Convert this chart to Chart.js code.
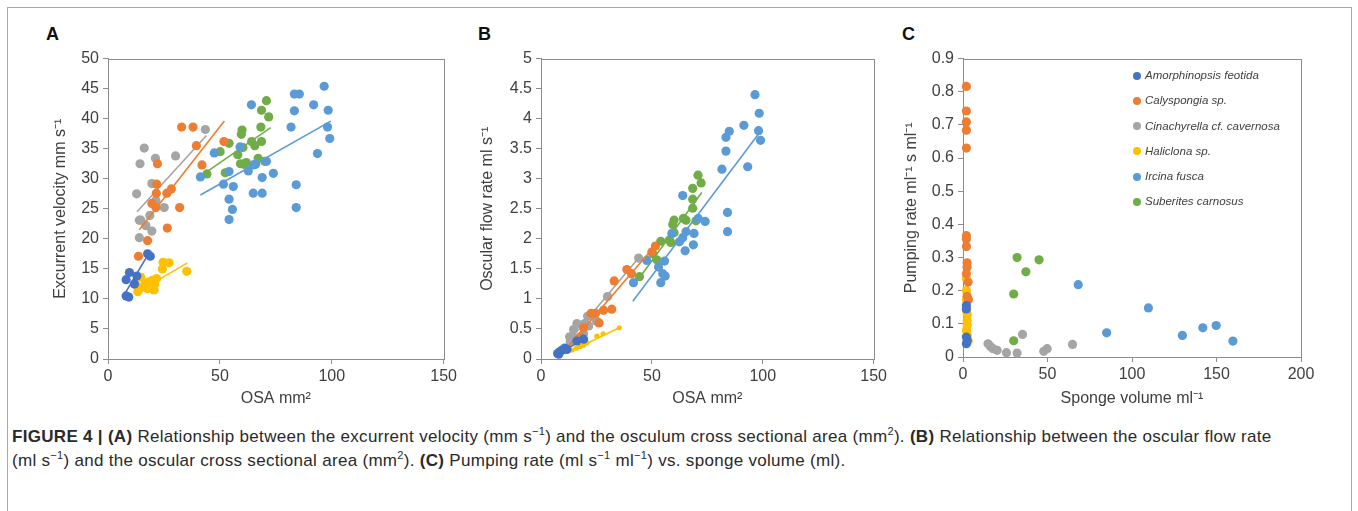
<!DOCTYPE html>
<html>
<head>
<meta charset="utf-8">
<script src="https://cdn.jsdelivr.net/npm/chart.js@4"></script>
<style>
  body { margin: 0; background: #fff; width: 1358px; height: 511px; overflow: hidden; position: relative; font-family: "Liberation Sans", Arial, sans-serif; }
  .frame { position: absolute; left: 7px; top: 7px; width: 1343px; height: 520px; border: 1px solid #a9a9a9; }
  canvas { position: absolute; top: 45px; }
  .tag { position: absolute; top: 24px; font: bold 18px "Liberation Sans", Arial, sans-serif; color: #111; }
  .legend { position: absolute; left: 1133px; top: 66px; font: italic 11.5px "Liberation Sans", Arial, sans-serif; color: #404040; }
  .legend div { height: 25.3px; line-height: 18px; white-space: nowrap; }
  .legend span { display: inline-block; width: 8px; height: 8px; border-radius: 50%; margin-right: 4px; vertical-align: -0.5px; }
  .caption { position: absolute; left: 12px; top: 425px; width: 1340px; font: 17px "Liberation Sans", Arial, sans-serif; letter-spacing: 0.3px; color: #2a2a2a; line-height: 24px; white-space: nowrap; }
  .caption b { font-weight: bold; }
  .caption sup { font-size: 11px; line-height: 0; }
</style>
</head>
<body>
<div class="frame"></div>
<div class="tag" style="left:46px">A</div>
<div class="tag" style="left:478px">B</div>
<div class="tag" style="left:902px">C</div>
<canvas id="chartA" width="420" height="365" style="left:40px"></canvas>
<canvas id="chartB" width="420" height="365" style="left:470px"></canvas>
<canvas id="chartC" width="430" height="365" style="left:890px"></canvas>
<div class="legend" id="legendC"></div>
<div class="caption">
  <b>FIGURE 4 | (A)</b> Relationship between the excurrent velocity (mm s<sup>−1</sup>) and the osculum cross sectional area (mm<sup>2</sup>). <b>(B)</b> Relationship between the oscular flow rate<br>
  (ml s<sup>−1</sup>) and the oscular cross sectional area (mm<sup>2</sup>). <b>(C)</b> Pumping rate (ml s<sup>−1</sup> ml<sup>−1</sup>) vs. sponge volume (ml).
</div>
<script>
// species + colours
const species = ['Amorphinopsis feotida', 'Calyspongia sp.', 'Cinachyrella cf. cavernosa', 'Haliclona sp.', 'Ircina fusca', 'Suberites carnosus'];
const colors = ['#4472C4', '#ED7D31', '#A5A5A5', '#FFC000', '#5B9BD5', '#70AD47'];

// PANEL A : excurrent velocity vs OSA  [x, y]
const aAmor = [[8.1,10.5],[9.3,10.3],[8.1,13.2],[9.6,14.4],[11.8,12.5],[12.9,13.8],[17.7,17.5],[18.9,17.1]];
const aCaly = [[13.6,17.1],[17.7,19.7],[22.1,32.5],[21.8,29.1],[21.6,27.6],[19.6,25.9],[21.4,25.2],[26.3,27.6],[28.3,28.3],[26.5,21.8],[32,25.2],[32.9,38.6],[38,38.6],[39.5,35.5],[42,32.3],[51.8,36.2]];
const aCina = [[12.8,27.5],[14,23.1],[14.7,23.1],[14.3,32.5],[16.2,35.1],[14,20.2],[16.9,22.2],[18.7,23.9],[19.6,21.3],[19.6,29.2],[21.2,33.4],[21.4,26.4],[25.1,25.2],[30.2,33.8],[43.5,38.2]];
const aHali = [[13.3,11.2],[14,11.7],[14.7,13.6],[15.5,12],[16.7,12.5],[18.1,12.8],[19.9,13.1],[20.6,11.5],[21.7,13.4],[24.3,15],[24.6,16.1],[27.3,16],[35.2,14.6],[12.5,12.3],[17.7,11.7],[20.9,12.5]];
const aIrci = [[41.3,30.3],[47.5,34.3],[51.6,29.1],[54.1,31.2],[54.1,26.6],[55.6,24.9],[54.1,23.2],[56,28.7],[59,35.3],[64.1,42.3],[62.7,31.3],[64.9,32.3],[66,32.4],[64.9,27.6],[68.9,30.2],[68.9,27.6],[70.8,32.9],[73.9,30.9],[81.8,38.6],[83.3,41.3],[83.3,44.1],[85.5,44.1],[84.1,29],[84.1,25.2],[91.9,42.3],[93.6,34.2],[96.6,45.4],[98.4,41.4],[98.1,38.6],[99.1,36.7]];
const aSube = [[44.2,30.8],[50.1,34.5],[52.4,31],[54.1,35.9],[58,34],[59.9,38.1],[59.6,37.4],[60.3,35.2],[59.2,32.5],[60.7,32.4],[61.8,32.7],[64.2,36.2],[65.6,35.5],[67.1,33.4],[68.6,41.4],[68.3,38.6],[68.6,36.2],[70.8,43],[71.8,40.3],[70,32.9]];
// trend lines A
const aAmorFit = [[7.4,10.8],[18.1,17.5]];
const aCalyFit = [[14,21.5],[52,39.6]];
const aCinaFit = [[13,24.5],[44,37.2]];
const aHaliFit = [[12.5,11],[35.5,16]];
const aIrciFit = [[41.3,27.3],[99.6,39.6]];
const aSubeFit = [[42.8,30.8],[72.7,38.5]];

// PANEL B : oscular flow rate vs OSA
const bAmor = [[7.5,0.09],[8.4,0.12],[9.5,0.15],[10.7,0.18],[19.2,0.33],[16.2,0.3],[8,0.08],[11.7,0.16]];
const bCaly = [[51.6,1.88],[49.95,1.78],[38.7,1.49],[40.8,1.42],[33,1.3],[28.2,0.81],[31.9,0.83],[26.2,0.6],[24.6,0.76],[22.6,0.76],[19.2,0.52],[17.7,0.37]];
const bCina = [[44,1.68],[30,1.04],[21,0.71],[16.2,0.59],[14.7,0.49],[12.9,0.37],[19.7,0.59],[21.5,0.55],[19.2,0.42],[13.2,0.29],[25,0.63],[15.9,0.34]];
const bHali = [[35.3,0.52],[28,0.42],[25.2,0.38],[20.7,0.27],[15.9,0.18],[14,0.15],[17.7,0.21],[19.2,0.23]];
const bIrci = [[96.5,4.4],[98.4,4.09],[91.5,3.89],[84.9,3.79],[83.4,3.69],[98.1,3.8],[99,3.64],[83.4,3.46],[81.6,3.16],[93.2,3.2],[84.1,2.44],[84.1,2.12],[74,2.29],[70.9,2.34],[69,2.09],[68.7,1.9],[65,1.8],[65.4,2.12],[63.9,2.72],[62.4,1.95],[59,2.09],[55.7,1.63],[53,1.53],[54.9,1.42],[56,1.38],[54,1.27],[47.7,1.64],[41.7,1.27],[63.9,2.02]];
const bSube = [[70.8,3.06],[72.2,2.93],[68.4,2.84],[68.4,2.66],[68.4,2.51],[69.9,2.3],[64.2,2.34],[65.4,2.31],[60,2.31],[59.4,2.24],[60,2.1],[57.9,1.98],[58.5,1.94],[54,1.96],[50.4,1.75],[52.2,1.65],[44.4,1.37]];
// trend lines B
const bAmorFit = [[7.9,0.09],[19.9,0.34]];
const bCalyFit = [[12.4,0.21],[51.5,1.89]];
const bCinaFit = [[12.4,0.29],[44,1.68]];
const bHaliFit = [[12.9,0.12],[35.7,0.53]];
const bIrciFit = [[41.4,0.96],[98.4,3.76]];
const bSubeFit = [[44,1.33],[72.5,2.77]];

// PANEL C : pumping rate vs sponge volume
const cAmor = [[2,0.155],[2,0.145],[2,0.06],[2,0.04],[2.5,0.05]];
const cCaly = [[2,0.816],[2,0.742],[2,0.709],[2,0.684],[2,0.63],[2,0.366],[2,0.356],[2,0.333],[2.4,0.284],[2.4,0.271],[2,0.251],[3,0.226],[3.2,0.173],[2.4,0.183]];
const cCina = [[14.8,0.04],[16.2,0.032],[17.8,0.025],[20.2,0.02],[25.7,0.013],[32,0.012],[35.2,0.068],[47.8,0.017],[49.8,0.025],[64.8,0.038]];
const cHali = [[2,0.236],[2,0.2],[2,0.173],[2,0.14],[2.5,0.13],[2.5,0.11],[2.5,0.095],[2,0.08],[2.5,0.065],[3,0.05],[3,0.047]];
const cIrci = [[68.2,0.218],[109.7,0.148],[85,0.073],[129.8,0.065],[141.9,0.088],[149.8,0.095],[159.7,0.048]];
const cSube = [[32,0.3],[45,0.293],[37.2,0.257],[30,0.19],[30,0.049]];

const axisGray = '#8c8c8c';
const textGray = '#404040';

// box round the plot area
const boxPlugin = {
  id: 'box',
  beforeDatasetsDraw(chart) {
    const a = chart.chartArea;
    const c = chart.ctx;
    c.save();
    c.strokeStyle = axisGray;
    c.lineWidth = 1;
    c.strokeRect(Math.round(a.left) + 0.5, Math.round(a.top) + 0.5, Math.round(a.right - a.left), Math.round(a.bottom - a.top));
    c.restore();
  }
};

function pts(arr) {
  return arr.map(p => ({ x: p[0], y: p[1] }));
}

// plain number label: 5 not 5.0
function plainTick(v) {
  return String(Math.round(v * 100) / 100);
}

function buildSets(series, fits, radii) {
  const sets = [];
  series.forEach((s, i) => {
    if (fits) {
      sets.push({
        data: pts(fits[i]), showLine: true, borderColor: colors[i], borderWidth: 1.6,
        pointRadius: 0, fill: false
      });
    }
    sets.push({
      label: species[i], data: pts(s), backgroundColor: colors[i], borderWidth: 0,
      pointRadius: radii ? radii[i] : 4.6, pointHoverRadius: 4.6
    });
  });
  return sets;
}

function makeChart(id, sets, opt) {
  return new Chart(document.getElementById(id), {
    type: 'scatter',
    data: { datasets: sets },
    plugins: [boxPlugin],
    options: {
      responsive: false,
      animation: false,
      devicePixelRatio: 1,
      clip: false,
      layout: { padding: { top: opt.padTop, right: opt.padRight, left: 0, bottom: 0 } },
      plugins: { legend: { display: false }, tooltip: { enabled: false } },
      scales: {
        x: {
          type: 'linear', min: 0, max: opt.xMax,
          ticks: { stepSize: 50, color: textGray, font: { size: 16, family: 'Liberation Sans' }, padding: 3, maxRotation: 0, callback: plainTick },
          grid: { drawOnChartArea: false, drawTicks: true, tickLength: 5, color: axisGray },
          border: { color: axisGray },
          title: { display: true, text: opt.xTitle, color: textGray, font: { size: 16, family: 'Liberation Sans' }, padding: { top: 2, bottom: 2 } },
          afterFit(s) { s.height = opt.xH; }
        },
        y: {
          type: 'linear', min: 0, max: opt.yMax,
          ticks: { stepSize: opt.yStep, color: textGray, font: { size: 16, family: 'Liberation Sans' }, padding: 4, callback: plainTick },
          grid: { drawOnChartArea: false, drawTicks: true, tickLength: 5, color: axisGray },
          border: { color: axisGray },
          title: { display: true, text: opt.yTitle, color: textGray, font: { size: 16, family: 'Liberation Sans' }, padding: { top: opt.yTitlePad, bottom: opt.yTitlePad } },
          afterFit(s) { s.width = opt.yW; }
        }
      }
    }
  });
}

makeChart('chartA',
  buildSets([aAmor, aCaly, aCina, aHali, aIrci, aSube], [aAmorFit, aCalyFit, aCinaFit, aHaliFit, aIrciFit, aSubeFit]),
  { xMax: 150, yMax: 50, yStep: 5, xTitle: 'OSA mm²', yTitle: 'Excurrent velocity mm s⁻¹',
    padTop: 12, padRight: 13, xH: 51, yW: 68, yTitlePad: 11 });

makeChart('chartB',
  buildSets([bAmor, bCaly, bCina, bHali, bIrci, bSube], [bAmorFit, bCalyFit, bCinaFit, bHaliFit, bIrciFit, bSubeFit], [4.6, 4.6, 4.6, 2.6, 4.6, 4.6]),
  { xMax: 150, yMax: 5, yStep: 0.5, xTitle: 'OSA mm²', yTitle: 'Oscular flow rate ml s⁻¹',
    padTop: 12, padRight: 16, xH: 51, yW: 71, yTitlePad: 8 });

makeChart('chartC',
  buildSets([cAmor, cCaly, cCina, cHali, cIrci, cSube], null),
  { xMax: 200, yMax: 0.9, yStep: 0.1, xTitle: 'Sponge volume ml⁻¹', yTitle: 'Pumping rate ml⁻¹ s ml⁻¹',
    padTop: 13, padRight: 19, xH: 53, yW: 73, yTitlePad: 12 });

// LEGEND C
const legendBox = document.getElementById('legendC');
species.forEach((name, i) => {
  legendBox.innerHTML += `<div><span style="background:${colors[i]}"></span>${name}</div>`;
});
</script>
</body>
</html>
